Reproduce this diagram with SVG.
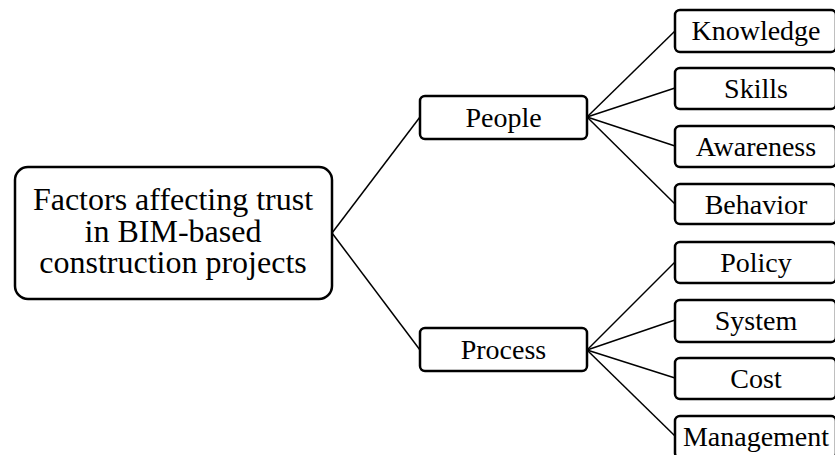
<svg xmlns="http://www.w3.org/2000/svg" width="835" height="455" viewBox="0 0 835 455">
<style>
.box{fill:#fff;stroke:#000;stroke-width:2.5}
.t{font-family:"Liberation Serif","Times New Roman",serif;font-size:28px;fill:#000;text-anchor:middle}
.r{font-size:32px}
.c{stroke:#000;stroke-width:1.5;fill:none}
</style>
<rect width="835" height="455" fill="#fff"/>
<g id="connectors">
<line class="c" x1="332" y1="233" x2="420" y2="117"/>
<line class="c" x1="332" y1="233" x2="420" y2="350"/>
<line class="c" x1="587" y1="117" x2="675" y2="31"/>
<line class="c" x1="587" y1="117" x2="675" y2="88"/>
<line class="c" x1="587" y1="117" x2="675" y2="146"/>
<line class="c" x1="587" y1="117" x2="675" y2="204"/>
<line class="c" x1="587" y1="350" x2="675" y2="262"/>
<line class="c" x1="587" y1="350" x2="675" y2="320"/>
<line class="c" x1="587" y1="350" x2="675" y2="378"/>
<line class="c" x1="587" y1="350" x2="675" y2="436"/>
</g>
<g id="root">
<rect class="box" x="15" y="167" width="317" height="132" rx="13"/>
<text class="t r" x="173" y="210">Factors affecting trust</text>
<text class="t r" x="173" y="242">in BIM-based</text>
<text class="t r" x="173" y="273">construction projects</text>
</g>
<g id="people">
<rect class="box" x="420" y="96" width="167" height="43" rx="5"/>
<text class="t" x="503.5" y="127">People</text>
</g>
<g id="process">
<rect class="box" x="420" y="328" width="167" height="43" rx="5"/>
<text class="t" x="503.5" y="359">Process</text>
</g>
<g id="knowledge"><rect class="box" x="675" y="10" width="161" height="42" rx="5"/><text class="t" x="756" y="40">Knowledge</text></g>
<g id="skills"><rect class="box" x="675" y="68" width="161" height="41" rx="5"/><text class="t" x="756" y="98">Skills</text></g>
<g id="awareness"><rect class="box" x="675" y="126" width="161" height="41" rx="5"/><text class="t" x="756" y="156">Awareness</text></g>
<g id="behavior"><rect class="box" x="675" y="184" width="161" height="40" rx="5"/><text class="t" x="756" y="214">Behavior</text></g>
<g id="policy"><rect class="box" x="675" y="242" width="161" height="41" rx="5"/><text class="t" x="756" y="272">Policy</text></g>
<g id="system"><rect class="box" x="675" y="300" width="161" height="42" rx="5"/><text class="t" x="756" y="330">System</text></g>
<g id="cost"><rect class="box" x="675" y="358" width="161" height="41" rx="5"/><text class="t" x="756" y="388">Cost</text></g>
<g id="management"><rect class="box" x="675" y="416" width="161" height="42" rx="5"/><text class="t" x="756" y="446">Management</text></g>
</svg>
